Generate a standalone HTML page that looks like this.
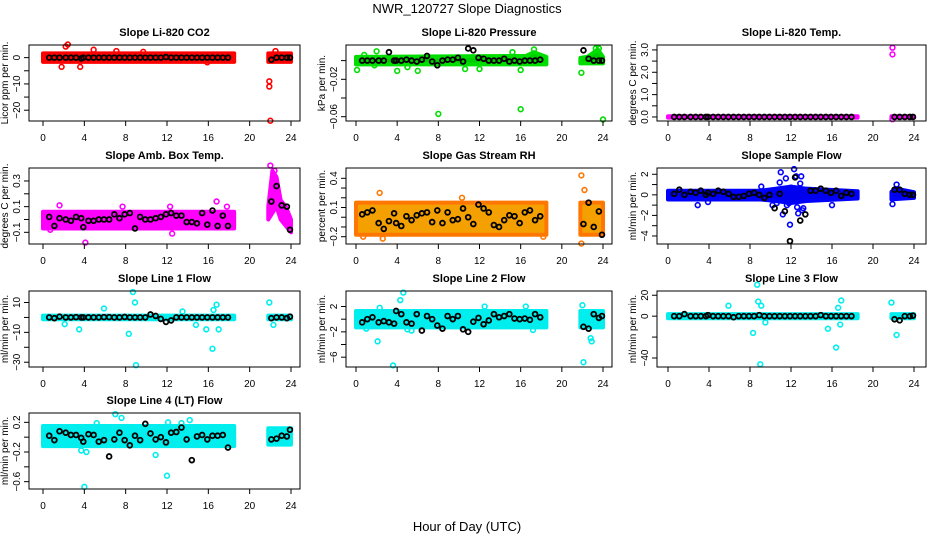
<!DOCTYPE html>
<html><head><meta charset="utf-8">
<style>
html,body{margin:0;padding:0;background:#fff;}
svg{display:block;font-family:"Liberation Sans",sans-serif;}
</style></head>
<body>
<svg id="chart" width="936" height="540" viewBox="0 0 936 540" xmlns="http://www.w3.org/2000/svg">
<rect width="936" height="540" fill="#fff"/>
<text x="467" y="13" text-anchor="middle" font-size="13">NWR_120727  Slope Diagnostics</text>
<text x="467" y="531" text-anchor="middle" font-size="13">Hour of Day (UTC)</text>
</svg>
<script>
// shared
const blackX = [0.6,1.1,1.6,2.2,2.7,3.2,3.7,3.9,4.4,4.9,5.4,5.9,6.4,6.9,7.4,7.9,8.4,8.9,9.4,9.9,10.4,10.9,11.4,11.9,12.4,12.9,13.4,13.9,14.4,14.9,15.4,15.9,16.4,16.9,17.4,17.9,22.1,22.6,23.1,23.6,23.9];
const xTicks = [0,4,8,12,16,20,24];

// Panel 1: Li-820 CO2
const p1BlackY = [0,0,0,0,0,0,-0.3,0,0,0,0,0,0,0,0,0,0,0,0,0,0,0,0,0.2,0,0,0,0,0,0,0,0,0,0,0,0,-0.8,0,0,0,0];
const p1BandX = [0,18.5,21.8,24];
const p1BandLo = [-1.6,-1.6,-1.6,-1.6];
const p1BandHi = [1.6,1.6,1.6,1.6];
const p1OutX = [2.2,2.4,1.8,3.6,4.9,21.9,21.9,22.0,22.5,15.9,7.1,9.7];
const p1OutY = [4.2,5,-3.5,-3.5,3,-9,-11,-24,2.5,-1.8,2.5,2.2];

// Panel 2: Li-820 Pressure
const p2BlackY = [0,0,0,0,0,0.009,0,0,0,0.001,0,-0.001,0.001,0.005,-0.001,-0.005,0,0.001,0.001,0.003,-0.001,0.013,0.011,0.003,0.002,0,0,0,0.002,-0.001,0,-0.001,0,0,0,0.001,0.011,0.002,0,0,0];
const p2BandX = [0,16.5,17.3,18.5,21.8,22.5,23.5,24];
const p2BandLo = [-0.004,-0.004,-0.004,-0.004,-0.003,-0.003,-0.003,-0.003];
const p2BandHi = [0.004,0.005,0.009,0.004,0.003,0.004,0.012,0.004];
const p2OutX = [0.1,2,4,8,16,16,24,21.9,1.8,5,6,10.6,12,15.2,17.3,23.3,23.6,0.8];
const p2OutY = [-0.01,0.01,-0.011,-0.057,-0.052,-0.01,-0.063,-0.013,-0.005,-0.007,-0.011,-0.009,-0.009,0.009,0.012,0.013,0.013,0.006];

// Panel 3: Li-820 Temp
const p3BlackY = [0,0,0,0,0,0,0,0,0,0,0,0,0,0,0,0,0,0,0,0,0,0,0,0,0,0,0,0,0,0,0,0,0,0,0,0,0,0,0,0,0];
const p3BandX = [0,18.5,21.8,24];
const p3BandLo = [-0.03,-0.03,-0.03,-0.03];
const p3BandHi = [0.03,0.03,0.03,0.03];
const p3OutX = [21.9,21.9,21.9];
const p3OutY = [3.1,2.8,-0.1];

// Panel 4: Amb. Box Temp
const p4BlackY = [0.02,-0.05,0.01,0,-0.01,0.02,0.01,-0.06,-0.01,-0.01,0,0,0,0.04,0.01,0.04,0.05,-0.07,0.02,0,0,0.01,0.02,0.04,0.05,0.03,0.03,-0.02,-0.02,-0.03,0.05,-0.04,0.07,-0.05,0.03,-0.05,0.14,0.26,0.11,0.1,-0.08];
const p4BandX = [0,18.5,21.8,22.2,22.6,23.0,23.5,24];
const p4BandLo = [-0.07,-0.07,0.0,0.05,0.1,0.0,-0.05,-0.1];
const p4BandHi = [0.06,0.06,0.1,0.38,0.33,0.15,0.1,0.0];
const p4OutX = [4.1,1.6,16.8,17.8,12.3,0.7,12.5,22,22.4,7.7];
const p4OutY = [-0.18,0.11,0.14,0.1,0.1,-0.08,-0.11,0.42,0.38,0.1];

// Panel 5: Gas Stream RH
const p5BlackY = [0.03,0.05,0.07,-0.06,-0.12,-0.04,0.04,-0.06,-0.09,0.01,-0.03,0.02,0.04,0.05,-0.05,0.07,-0.06,0.05,-0.03,-0.02,0.09,0.0,-0.07,0.13,0.09,0.05,-0.08,-0.1,-0.03,0.02,0.01,-0.06,0.05,0.07,-0.03,0.01,-0.07,0.15,-0.1,0.06,-0.18];
const p5BandX = [0,18.5,21.8,24];
const p5BandLo = [-0.18,-0.18,-0.18,-0.18];
const p5BandHi = [0.15,0.15,0.15,0.15];
const p5OutX = [2.3,0.7,2.6,21.9,22.2,21.9,10.3,18.2];
const p5OutY = [0.25,-0.2,-0.22,0.43,0.28,-0.27,0.2,-0.2];

// Panel 6: Sample Flow
const p6BlackY = [0.1,0.5,0,0.3,0.2,0.4,0,0.2,0.1,0.4,0.3,0.1,-0.2,-0.2,-0.1,0.1,0.2,0,-0.3,0,-1.3,0.1,-1.6,-4.5,1.7,-2.5,-1.9,0.4,0.4,0.6,0.4,0.2,0.4,-0.1,0.2,0.1,0.5,0.5,0.1,0,0];
const p6BandX = [0,9,10.5,12,13.5,18.5,21.8,22.3,24];
const p6BandLo = [-0.45,-0.45,-0.6,-0.8,-0.6,-0.35,-0.45,-0.4,-0.3];
const p6BandHi = [0.4,0.4,0.6,0.8,0.6,0.35,0.3,0.6,0.25];
const p6OutX = [11,12.3,12.5,13,11.5,11.2,12.6,12.7,13.2,10.9,9.1,2.9,3.9,16,11.8,10.6,21.9,22.3,12,11.9,10.2,12.9,13.1,11.6];
const p6OutY = [2.2,2.5,1.8,1.8,1.6,-1.9,-1.2,-1.8,-1.3,1.2,0.8,-1,-0.7,-1,-0.8,-0.8,-0.9,1,0.7,-2.9,-1.0,1.1,-1.5,-1.0];

// Panel 7: Line 1 Flow
const p7BlackY = [0,-0.5,0.5,0,0,0.2,0,0,0,0,0,0.2,0.2,0,0,0.3,0,0,0,0,2,1,-1,-3,-2,0,0,0,0,0,0,0,0,0,0,0,-0.5,0,0,-0.5,0.5];
const p7BandX = [0,18.5,21.8,24];
const p7BandLo = [-1.2,-1.2,-1.2,-1.2];
const p7BandHi = [1.2,1.2,1.2,1.2];
const p7OutX = [8.7,8.9,9,8.3,16.4,3.5,2.1,5.9,16.8,16.5,17,15.8,14.8,21.9,22.3,13.5];
const p7OutY = [17,10,-32,-11,-21,-8,-4.5,6,8.5,5,-8,-8,-5,10,-5,4];

// Panel 8: Line 2 Flow
const p8BlackY = [-0.5,0,0.3,-0.5,-0.3,-0.5,-0.7,1.3,0.8,-0.5,-0.7,0.8,-1.8,0.5,0,-1.0,-1.5,0.5,0,0.5,-1.6,-2,-0.4,0.2,-0.8,-0.2,0.8,0.3,0.5,0.8,0.1,0,0.1,-0.1,0.8,0.3,-1.2,-1.5,0.8,0.2,0.5];
const p8BandX = [0,18.5,21.8,24];
const p8BandLo = [-1.3,-1.3,-1.3,-1.3];
const p8BandHi = [1.3,1.3,1.3,1.3];
const p8OutX = [3.6,4.6,4.3,2.1,22.1,22.9,22.8,22,5.4,5,2.3,12.5,16.5,17.2,1.0];
const p8OutY = [-7.3,4.2,3,-3.5,-6.8,-3.5,-3,2.2,-1.8,-1.6,1.8,2,2,-1.7,-1.5];

// Panel 9: Line 3 Flow
const p9BlackY = [0,0,2,0,0,0,0,1,0,0,0,0,-1,0,0,0,0,1,0,0,0,0,0,0,0,0,0,0,0,1,0,0,0,0,0,0,-3,-4,0,0,0.5];
const p9BandX = [0,18.5,21.8,24];
const p9BandLo = [-2,-2,-2,-2];
const p9BandHi = [2,2,2,2];
const p9OutX = [8.7,9.0,8.3,16.4,16.9,5.9,21.8,22.3,8.8,9.1,16.8,15.6,9.5,16.6];
const p9OutY = [30,-46,-16,-30,15,10,13,-18,14,10,-8,-12,-6,8];

// Panel 10: Line 4 (LT) Flow
const p10BlackY = [0.02,-0.04,0.08,0.06,0.03,0.03,-0.01,-0.06,0.04,0.03,-0.06,-0.04,-0.26,-0.03,0.06,-0.04,-0.11,0.02,-0.04,0.18,0.05,-0.03,0,-0.07,0.06,0.07,0.13,-0.03,-0.31,0.01,0.03,-0.03,0.02,0.02,0.03,-0.14,-0.03,-0.02,0.02,0.01,0.1];
const p10BandX = [0,18.5,21.8,24];
const p10BandLo = [-0.12,-0.12,-0.1,-0.1];
const p10BandHi = [0.15,0.15,0.12,0.12];
const p10OutX = [4,12,7,7.6,10.9,4.2,12.1,5.2,13.4,3.7,14.2];
const p10OutY = [-0.67,-0.52,0.31,0.26,-0.24,-0.2,0.2,0.19,0.19,-0.18,0.23];

const cols = [{b0:29,b1:300,x0:43,x24:291},{b0:346,b1:612,x0:356,x24:603},{b0:657,b1:926,x0:668,x24:914}];
const rows = [45,168,291,413];
const H = 76;

const panels = [
 {name:'co2',title:'Slope Li-820 CO2',yl:'Licor ppm per min.',col:'#ff0000',fill:'#ff0000',ymin:-24.1,ymax:4.8,ticks:[0,-5,-10,-15,-20],labels:[0,-10,-20],r:0,c:0,by:p1BlackY,bx:p1BandX,blo:p1BandLo,bhi:p1BandHi,ox:p1OutX,oy:p1OutY},
 {name:'pressure',title:'Slope Li-820 Pressure',yl:'kPa per min.',col:'#00dd00',fill:'#00cc00',ymin:-0.0646,ymax:0.0167,ticks:[0,-0.02,-0.04,-0.06],labels:[-0.02,-0.06],r:0,c:1,by:p2BlackY,bx:p2BandX,blo:p2BandLo,bhi:p2BandHi,ox:p2OutX,oy:p2OutY},
 {name:'temp',title:'Slope Li-820 Temp.',yl:'degrees C per min.',col:'#ff00ff',fill:'#ff00ff',ymin:-0.18,ymax:3.22,ticks:[0,0.5,1,1.5,2,2.5,3],labels:[0,1,2,3],fmt:1,r:0,c:2,by:p3BlackY,bx:p3BandX,blo:p3BandLo,bhi:p3BandHi,ox:p3OutX,oy:p3OutY},
 {name:'amb-box-temp',title:'Slope Amb. Box Temp.',yl:'degrees C per min.',col:'#ff00ff',fill:'#ff00ff',ymin:-0.191,ymax:0.401,ticks:[-0.1,0,0.1,0.2,0.3],labels:[-0.1,0.1,0.3],r:1,c:0,by:p4BlackY,bx:p4BandX,blo:p4BandLo,bhi:p4BandHi,ox:p4OutX,oy:p4OutY},
 {name:'gas-stream-rh',title:'Slope Gas Stream RH',yl:'percent per min.',col:'#ff7700',fill:'#f4a000',ymin:-0.275,ymax:0.506,ticks:[-0.2,-0.1,0,0.1,0.2,0.3,0.4],labels:[-0.2,0.1,0.4],r:1,c:1,by:p5BlackY,bx:p5BandX,blo:p5BandLo,bhi:p5BandHi,ox:p5OutX,oy:p5OutY},
 {name:'sample-flow',title:'Slope Sample Flow',yl:'ml/min per min.',col:'#0000ff',fill:'#0000ee',ymin:-4.78,ymax:2.61,ticks:[2,1,0,-1,-2,-3,-4],labels:[2,0,-2,-4],r:1,c:2,by:p6BlackY,bx:p6BandX,blo:p6BandLo,bhi:p6BandHi,ox:p6OutX,oy:p6OutY},
 {name:'line1-flow',title:'Slope Line 1 Flow',yl:'ml/min per min.',col:'#00eeee',fill:'#00eeee',ymin:-33.2,ymax:17.7,ticks:[10,0,-10,-20,-30],labels:[10,-10,-30],r:2,c:0,by:p7BlackY,bx:p7BandX,blo:p7BandLo,bhi:p7BandHi,ox:p7OutX,oy:p7OutY},
 {name:'line2-flow',title:'Slope Line 2 Flow',yl:'ml/min per min.',col:'#00eeee',fill:'#00eeee',ymin:-7.55,ymax:4.45,ticks:[2,0,-2,-4,-6],labels:[2,-2,-6],r:2,c:1,by:p8BlackY,bx:p8BandX,blo:p8BandLo,bhi:p8BandHi,ox:p8OutX,oy:p8OutY},
 {name:'line3-flow',title:'Slope Line 3 Flow',yl:'ml/min per min.',col:'#00eeee',fill:'#00eeee',ymin:-48.6,ymax:24.06,ticks:[20,0,-20,-40],labels:[20,0,-40],r:2,c:2,by:p9BlackY,bx:p9BandX,blo:p9BandLo,bhi:p9BandHi,ox:p9OutX,oy:p9OutY},
 {name:'line4-flow',title:'Slope Line 4 (LT) Flow',yl:'ml/min per min.',col:'#00eeee',fill:'#00eeee',ymin:-0.699,ymax:0.326,ticks:[0.2,0,-0.2,-0.4,-0.6],labels:[0.2,-0.2,-0.6],r:3,c:0,by:p10BlackY,bx:p10BandX,blo:p10BandLo,bhi:p10BandHi,ox:p10OutX,oy:p10OutY}
];

const NS='http://www.w3.org/2000/svg';
const svg=document.getElementById('chart');
function mk(tag,attrs,parent){const e=document.createElementNS(NS,tag);for(const k in attrs)e.setAttribute(k,attrs[k]);(parent||svg).appendChild(e);return e;}

panels.forEach(p=>{
  const C=cols[p.c], top=rows[p.r], bot=top+H;
  const xs=v=>C.x0+(C.x24-C.x0)*v/24;
  const ys=v=>bot-(v-p.ymin)/(p.ymax-p.ymin)*H;
  const g=mk('g',{});
  
  
  const t=mk('text',{x:(C.b0+C.b1)/2,y:top-9,'text-anchor':'middle','font-size':'11','font-weight':'bold'},g);
  t.textContent=p.title;
  
  
  let segs=[],cur=[];
  p.bx.forEach((x,i)=>{ if(cur.length && p.bx[i-1]<20 && x>20){segs.push(cur);cur=[];} cur.push(i); });
  segs.push(cur);
  segs.forEach(s=>{
    let pts=s.map(i=>xs(p.bx[i])+','+ys(p.bhi[i]));
    pts=pts.concat(s.slice().reverse().map(i=>xs(p.bx[i])+','+ys(p.blo[i])));
    const poly=mk('polygon',{points:pts.join(' '),fill:p.fill,stroke:p.col,'stroke-width':'4','stroke-linejoin':'round'},g);
    
    
  });
  p.ox.forEach((x,i)=>{
    const c=mk('circle',{cx:xs(x),cy:ys(p.oy[i]),r:2.4,fill:'none',stroke:p.col,'stroke-width':'1.6'},g);
    
    
  });
  blackX.forEach((x,i)=>{
    const c=mk('circle',{cx:xs(x),cy:ys(p.by[i]),r:2.4,fill:'none',stroke:'#000','stroke-width':'1.8'},g);
    
    
  });
  const b=mk('rect',{x:C.b0,y:top,width:C.b1-C.b0,height:H,fill:'none',stroke:'#000','stroke-width':'1'},g);
  
  
  xTicks.forEach(v=>{
    mk('line',{x1:xs(v),x2:xs(v),y1:bot,y2:bot+5,stroke:'#000'},g);
    const l=mk('text',{x:xs(v),y:bot+20,'text-anchor':'middle','font-size':'10'},g);
    l.textContent=v;
    
    
  });
  p.ticks.forEach(v=>{
    mk('line',{x1:C.b0-5,x2:C.b0,y1:ys(v),y2:ys(v),stroke:'#000'},g);
  });
  p.labels.forEach(v=>{
    const lx=C.b0-9, ly=ys(v);
    const l=mk('text',{x:lx,y:ly,'text-anchor':'middle','font-size':'10',transform:'rotate(-90 '+lx+' '+ly+')'},g);
    l.textContent=p.fmt?v.toFixed(1):String(v).replace('-','\u2212');
    
    
  });
  const yx=C.b0-21, yy=top+H/2;
  const yl=mk('text',{x:yx,y:yy,'text-anchor':'middle','font-size':'10',transform:'rotate(-90 '+yx+' '+yy+')'},g);
  yl.textContent=p.yl;
  
  
});
</script>
</body></html>
